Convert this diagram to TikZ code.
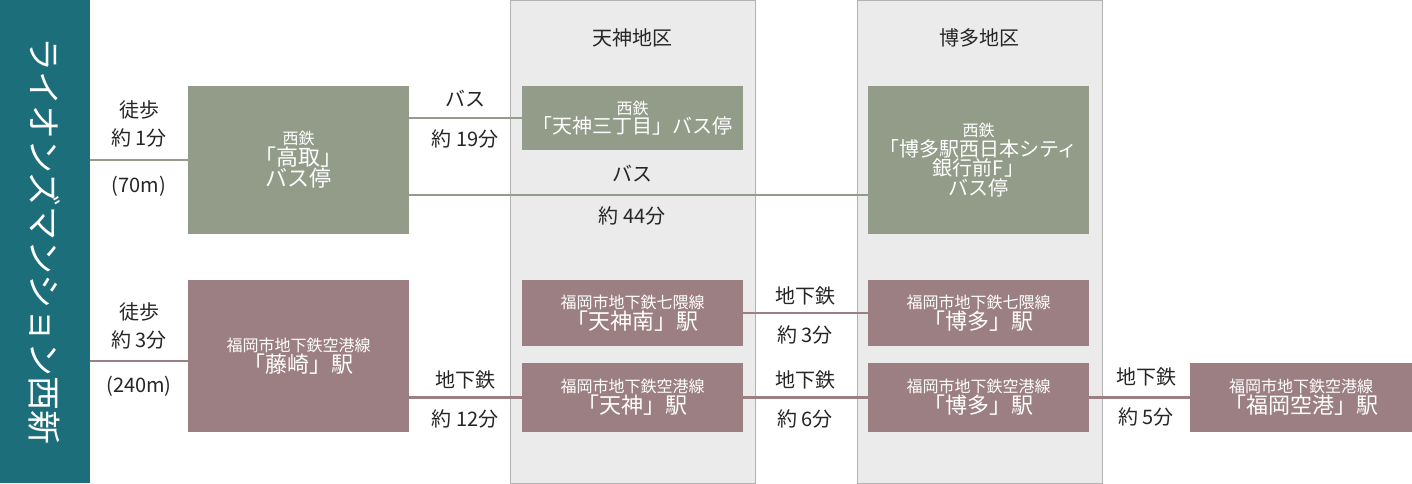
\documentclass[tikz,border=0pt]{standalone}
\usepackage{fontspec}
\setmainfont{Noto Sans CJK JP}
\newcommand\fsm{\fontsize{16}{20}\selectfont}
\newcommand\fbg{\fontsize{22}{28}\selectfont}
\newcommand\fmd{\fontsize{20}{26}\selectfont}
\begin{document}
\begin{tikzpicture}[x=1pt,y=-1pt,
 gbox/.style={fill=boxg,draw=none,text=white,align=center,inner sep=0},
 mbox/.style={fill=boxm,draw=none,text=white,align=center,inner sep=0},
 gl/.style={draw=boxg,line width=2.5pt},
 ml/.style={draw=boxm,line width=2.5pt},
 lab/.style={font=\fontsize{20}{28}\selectfont,text=black!85,align=center}]
\definecolor{boxg}{HTML}{939B89}
\definecolor{boxm}{HTML}{9C7F82}
\definecolor{teal}{HTML}{1B6E7A}
\definecolor{zone}{HTML}{EBEBEB}
\useasboundingbox (0,0) rectangle (1412,483);
\fill[white] (0,0) rectangle (1412,483);
\fill[teal] (0,0) rectangle (90,483);
\node[text=white,rotate=-90,font=\fontsize{34}{38}\selectfont] (title) at (45,241) {ライオンズマンション西新};
\draw[fill=zone,draw=black!30] (510,0.5) rectangle (755,483);
\draw[fill=zone,draw=black!30] (857,0.5) rectangle (1102,483);
\node[lab] (z1) at (632,38) {天神地区};
\node[lab] (z2) at (979,38) {博多地区};
% boxes
\node[gbox,minimum width=221,minimum height=148] (takatori) at (298.5,160) {{\fsm 西鉄}\\{\fbg 「高取」}\\{\fbg バス停}};
\node[gbox,minimum width=221,minimum height=64] (tenjin3) at (632.5,118) {{\fsm 西鉄}\\{\fmd 「天神三丁目」バス停}};
\node[gbox,minimum width=221,minimum height=148] (hakatabus) at (978.5,160) {{\fsm 西鉄}\\{\fmd 「博多駅西日本シティ}\\{\fmd 銀行前F」}\\{\fmd バス停}};
\node[mbox,minimum width=221,minimum height=152] (fujisaki) at (298.5,356) {{\fsm 福岡市地下鉄空港線}\\{\fbg 「藤崎」駅}};
\node[mbox,minimum width=221,minimum height=66] (tenjinminami) at (632.5,313) {{\fsm 福岡市地下鉄七隈線}\\{\fbg 「天神南」駅}};
\node[mbox,minimum width=221,minimum height=69] (tenjin) at (632.5,397.5) {{\fsm 福岡市地下鉄空港線}\\{\fbg 「天神」駅}};
\node[mbox,minimum width=221,minimum height=66] (hakata1) at (978.5,313) {{\fsm 福岡市地下鉄七隈線}\\{\fbg 「博多」駅}};
\node[mbox,minimum width=221,minimum height=69] (hakata2) at (978.5,397.5) {{\fsm 福岡市地下鉄空港線}\\{\fbg 「博多」駅}};
\node[mbox,minimum width=222,minimum height=69] (airport) at (1301,397.5) {{\fsm 福岡市地下鉄空港線}\\{\fbg 「福岡空港」駅}};
% lines
\coordinate (w1) at (90,160);
\coordinate (w2) at (90,361);
\draw[gl] (w1) -- (takatori.west |- w1);
\draw[gl] (takatori.east |- tenjin3.west) -- (tenjin3.west);
\draw[gl] (takatori.east |- 0,195) -- (hakatabus.west |- 0,195);
\draw[ml] (w2) -- (fujisaki.west |- w2);
\draw[ml] (fujisaki.east |- tenjin.west) -- (tenjin.west);
\draw[ml] (tenjinminami.east) -- (hakata1.west);
\draw[ml] (tenjin.east) -- (hakata2.west);
\draw[ml] (hakata2.east) -- (airport.west);
% labels
\node[lab] (l1) at (139,124) {徒歩\\約 1分};
\node[lab] (l1b) at (139,186) {(70m)};
\node[lab] (l2) at (465,99) {バス};
\node[lab] (l2b) at (465,139) {約 19分};
\node[lab] (l3) at (632,174) {バス};
\node[lab] (l3b) at (632,216) {約 44分};
\node[lab] (l4) at (139,326) {徒歩\\約 3分};
\node[lab] (l4b) at (139,386) {(240m)};
\node[lab] (l5) at (465,380) {地下鉄};
\node[lab] (l5b) at (465,419) {約 12分};
\node[lab] (l6) at (805,296) {地下鉄};
\node[lab] (l6b) at (805,335) {約 3分};
\node[lab] (l7) at (805,380) {地下鉄};
\node[lab] (l7b) at (805,419) {約 6分};
\node[lab] (l8) at (1146,377) {地下鉄};
\node[lab] (l8b) at (1146,417) {約 5分};
\end{tikzpicture}
\end{document}
